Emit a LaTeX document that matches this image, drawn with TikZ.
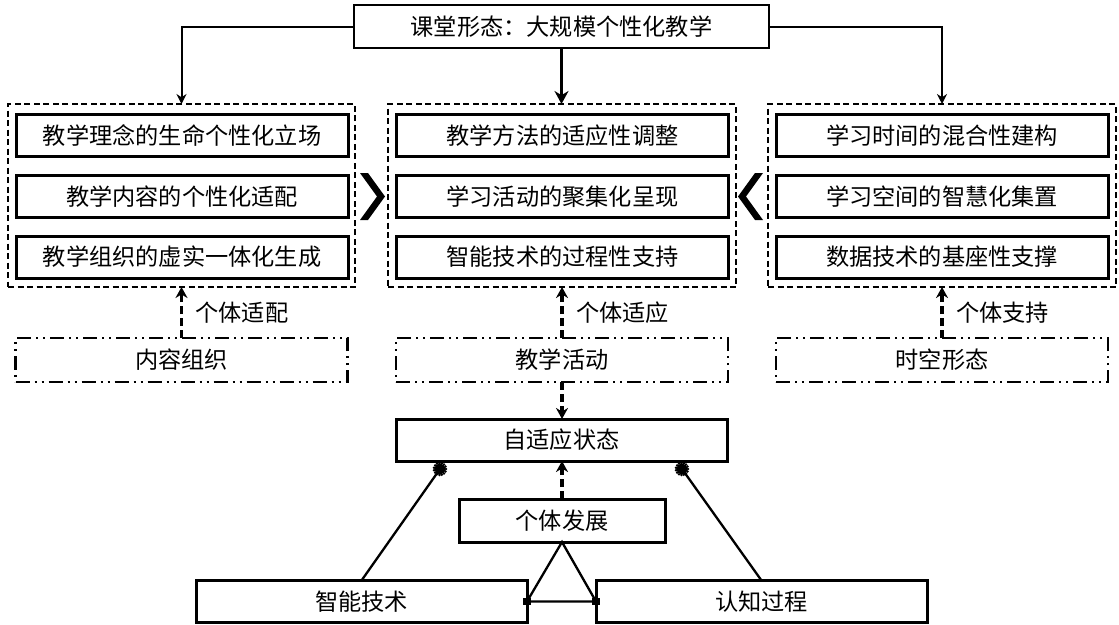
\documentclass[tikz,border=0pt]{standalone}
\usepackage{fontspec}
\setmainfont{Noto Sans CJK SC}
\usetikzlibrary{arrows.meta,shapes.geometric,calc}
\begin{document}
\begin{tikzpicture}[x=1pt,y=-1pt,
  every node/.style={font=\fontsize{23.2}{28}\selectfont, inner sep=0pt, outer sep=0pt},
  box/.style={draw, line width=3pt, minimum height=42pt},
  topbox/.style={draw, line width=2.8pt, minimum width=415pt, minimum height=43pt},
  dbox/.style={draw, line width=1.9pt, dash pattern=on 6pt off 3.5pt, minimum width=347pt, minimum height=183pt},
  ddbox/.style={draw, line width=2.3pt, dash pattern=on 14pt off 5pt on 2pt off 5pt on 2pt off 5pt, minimum width=332pt, minimum height=44pt},
  inbox/.style={box, minimum width=332pt},
  thinarrow/.style={line width=2pt, -{Stealth[length=10pt,width=10pt]}},
  thickarrow/.style={line width=3.4pt, -{Stealth[length=13pt,width=14pt]}},
  dasharrow/.style={line width=3.2pt, dash pattern=on 8pt off 4pt, -{Stealth[length=11pt,width=12pt]}},
  plain/.style={line width=2.3pt},
  sq/.style={fill=black, minimum size=7.5pt, inner sep=0pt}
]
\useasboundingbox (0,0) rectangle (1119,624);
\fill[white] (0,0) rectangle (1119,624);

\node[topbox] (top) at (561.5,26.5) {课堂形态：大规模个性化教学};

\node[dbox] (ld) at (181.5,195.5) {};
\node[dbox, minimum width=348pt] (md) at (562,195.5) {};
\node[dbox, minimum width=348pt] (rd) at (942,195.5) {};

\node[inbox] (l1) at (182,135.5) {教学理念的生命个性化立场};
\node[inbox] (l2) at (182,196.5) {教学内容的个性化适配};
\node[inbox] (l3) at (182,257) {教学组织的虚实一体化生成};

\node[inbox] (m1) at (562.5,135.5) {教学方法的适应性调整};
\node[inbox] (m2) at (562.5,196.5) {学习活动的聚集化呈现};
\node[inbox] (m3) at (562.5,257) {智能技术的过程性支持};

\node[inbox] (r1) at (942,135.5) {学习时间的混合性建构};
\node[inbox] (r2) at (942,196.5) {学习空间的智慧化集置};
\node[inbox] (r3) at (942,257) {数据技术的基座性支撑};

\node[ddbox] (lc) at (181.5,360) {内容组织};
\node[ddbox] (mc) at (562,360) {教学活动};
\node[ddbox] (rc) at (942,360) {时空形态};

\node[box, minimum width=331pt] (auto) at (561.5,440) {自适应状态};
\node[box, minimum width=206pt, minimum height=43pt] (dev) at (562,520.5) {个体发展};
\node[box, minimum width=331pt] (tech) at (361.5,601.5) {智能技术};
\node[box, minimum width=331pt] (cog) at (761.5,601.5) {认知过程};

% top arrows
\draw[thinarrow] (top.west) -| (ld.north);
\draw[thinarrow] (top.east) -| (rd.north);
\draw[thickarrow] (top.south) -- (top.south |- md.north);

% chevrons
\fill (360,173) -- (368,173) -- (385,196.5) -- (368,220) -- (360,220) -- (377,196.5) -- cycle;
\fill (763,173) -- (755,173) -- (738,196.5) -- (755,220) -- (763,220) -- (746,196.5) -- cycle;

% dashed arrows
\draw[dasharrow] (lc.north) -- (ld.south) node[midway, right=14pt] {个体适配};
\draw[dasharrow] (mc.north) -- (md.south) node[midway, right=14pt] {个体适应};
\draw[dasharrow] (rc.north) -- (rd.south) node[midway, right=14pt] {个体支持};
\draw[dasharrow] (mc.south) -- (mc.south |- auto.north);
\draw[dasharrow] (dev.north) -- (dev.north |- auto.south);

% gear connectors
\coordinate (g1) at (440,469);
\coordinate (g2) at (682,469);
\draw[plain] (tech.north) -- (g1);
\draw[plain] (cog.north) -- (g2);
\foreach \g in {g1,g2}{
  \fill (\g) circle (5.5pt);
  \foreach \a in {0,24,...,336}{
    \fill ($(\g)+(\a:6pt)$) circle (1.4pt);
  }
}

% triangle
\draw[plain] (dev.south) -- (tech.east) -- (cog.west) -- cycle;
\node[sq] (s1) at (tech.east) {};
\node[sq] (s2) at (cog.west) {};
\end{tikzpicture}
\end{document}
